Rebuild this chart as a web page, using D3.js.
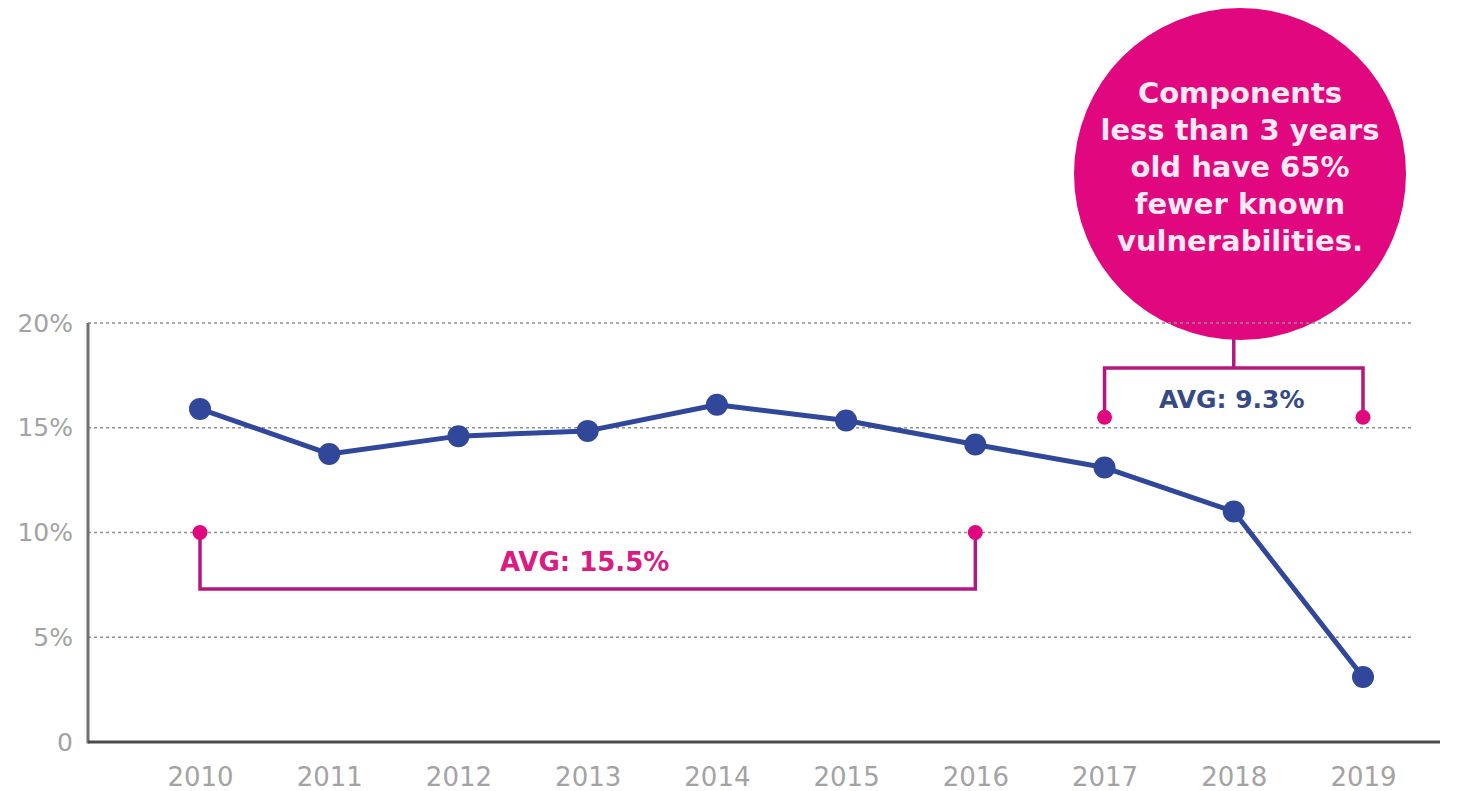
<!DOCTYPE html>
<html>
<head>
<meta charset="utf-8">
<script src="https://cdn.jsdelivr.net/npm/d3@7"></script>
<style>
  html, body { margin: 0; padding: 0; background: #ffffff; }
  svg { display: block; }
</style>
</head>
<body>
<svg id="chart" width="1457" height="791"></svg>
<script>
// ---- data ----
const years = [2010, 2011, 2012, 2013, 2014, 2015, 2016, 2017, 2018, 2019];
const values = [15.9, 13.75, 14.6, 14.85, 16.1, 15.35, 14.2, 13.1, 11.0, 3.1];
const yTicks = [0, 5, 10, 15, 20];
const yTickLabels = ["0", "5%", "10%", "15%", "20%"];
const avgLabels = ["AVG: 15.5%", "AVG: 9.3%"];
const avgStartYear = [2010, 2017];
const avgEndYear = [2016, 2019];
const avgPinLevel = [10, 15.5];
const avgBarLevel = [7.3, 17.85];
const calloutLines = ["Components", "less than 3 years", "old have 65%", "fewer known", "vulnerabilities."];

// ---- setup ----
const svg = d3.select("#chart");
const W = 1457, H = 791;
const axisX = 88, gridRight = 1413, baseRight = 1440;
const x = d3.scaleLinear().domain([2010, 2019]).range([200, 1363]);
const y = d3.scaleLinear().domain([0, 20]).range([742, 323]);

const NAVY = "#30479a";
const MAGENTA = "#e0077f";
const BRACKET = "#b4177f";
const GREY = "#9b9b9b";
const BOLD = "'DejaVu Sans', sans-serif";

// ---- callout circle (behind gridlines) ----
const cx = 1240, cy = 174, r = 166;
svg.append("circle").attr("cx", cx).attr("cy", cy).attr("r", r).attr("fill", MAGENTA);
const ct = svg.append("text")
  .attr("text-anchor", "middle")
  .attr("font-family", BOLD)
  .attr("font-weight", 700)
  .attr("font-size", 29)
  .attr("fill", "#fde9f4");
calloutLines.forEach((t, i) => {
  ct.append("tspan").attr("x", cx).attr("y", 103 + i * 37).text(t);
});

// ---- gridlines ----
svg.append("g").selectAll("line")
  .data(yTicks.filter(d => d > 0))
  .join("line")
  .attr("x1", axisX).attr("x2", gridRight)
  .attr("y1", d => y(d)).attr("y2", d => y(d))
  .attr("stroke", "#8f8f8f")
  .attr("stroke-width", 1.4)
  .attr("stroke-dasharray", "3,3");

// ---- y axis labels ----
const yAxis = d3.axisLeft(y)
  .tickValues(yTicks)
  .tickFormat((d, i) => yTickLabels[i])
  .tickSize(0)
  .tickPadding(15);
const gy = svg.append("g").attr("transform", `translate(${axisX},0)`).call(yAxis);
gy.select(".domain").remove();
gy.selectAll("text")
  .attr("font-family", "'DejaVu Sans', sans-serif")
  .attr("font-size", 25)
  .attr("fill", "#a3a3a3");

// ---- x axis labels ----
const xAxis = d3.axisBottom(x)
  .tickValues(years)
  .tickFormat(d3.format("d"))
  .tickSize(0)
  .tickPadding(26);
const gx = svg.append("g").attr("transform", `translate(0,${y(0)})`).call(xAxis);
gx.select(".domain").remove();
gx.selectAll("text")
  .attr("font-family", "'DejaVu Sans', sans-serif")
  .attr("font-size", 26)
  .attr("fill", "#a3a3a3");

// ---- axis lines ----
svg.append("line")
  .attr("x1", axisX).attr("x2", axisX)
  .attr("y1", y(20)).attr("y2", y(0) + 1.5)
  .attr("stroke", "#707070").attr("stroke-width", 3);
svg.append("line")
  .attr("x1", axisX).attr("x2", baseRight)
  .attr("y1", y(0)).attr("y2", y(0))
  .attr("stroke", "#4a4a4a").attr("stroke-width", 3);

// ---- average brackets ----
avgLabels.forEach((label, i) => {
  const x1 = x(avgStartYear[i]), x2 = x(avgEndYear[i]);
  const yp = y(avgPinLevel[i]), yb = y(avgBarLevel[i]);
  svg.append("path")
    .attr("d", `M${x1},${yp}V${yb}H${x2}V${yp}`)
    .attr("fill", "none")
    .attr("stroke", BRACKET)
    .attr("stroke-width", 3.5);
  [x1, x2].forEach(px => {
    svg.append("circle").attr("cx", px).attr("cy", yp).attr("r", 7.5).attr("fill", MAGENTA);
  });
});
// stem from right bracket to callout circle
{
  const xm = (x(avgStartYear[1]) + x(avgEndYear[1])) / 2;
  svg.append("line")
    .attr("x1", xm).attr("x2", xm)
    .attr("y1", y(avgBarLevel[1])).attr("y2", cy + r - 1)
    .attr("stroke", BRACKET).attr("stroke-width", 3.5);
}
// labels
svg.append("text")
  .attr("x", (x(avgStartYear[0]) + x(avgEndYear[0])) / 2 - 3)
  .attr("y", 571)
  .attr("text-anchor", "middle")
  .attr("font-family", BOLD).attr("font-weight", 700).attr("font-size", 26)
  .attr("fill", "#d81c82")
  .text(avgLabels[0]);
svg.append("text")
  .attr("x", (x(avgStartYear[1]) + x(avgEndYear[1])) / 2 - 2)
  .attr("y", 408)
  .attr("text-anchor", "middle")
  .attr("font-family", BOLD).attr("font-weight", 700).attr("font-size", 25)
  .attr("fill", "#364a85")
  .text(avgLabels[1]);

// ---- line + points ----
const line = d3.line().x((d, i) => x(years[i])).y(d => y(d));
svg.append("path")
  .datum(values)
  .attr("d", line)
  .attr("fill", "none")
  .attr("stroke", NAVY)
  .attr("stroke-width", 5)
  .attr("stroke-linejoin", "round");
svg.append("g").selectAll("circle")
  .data(values)
  .join("circle")
  .attr("cx", (d, i) => x(years[i]))
  .attr("cy", d => y(d))
  .attr("r", 11)
  .attr("fill", NAVY);
</script>
</body>
</html>
